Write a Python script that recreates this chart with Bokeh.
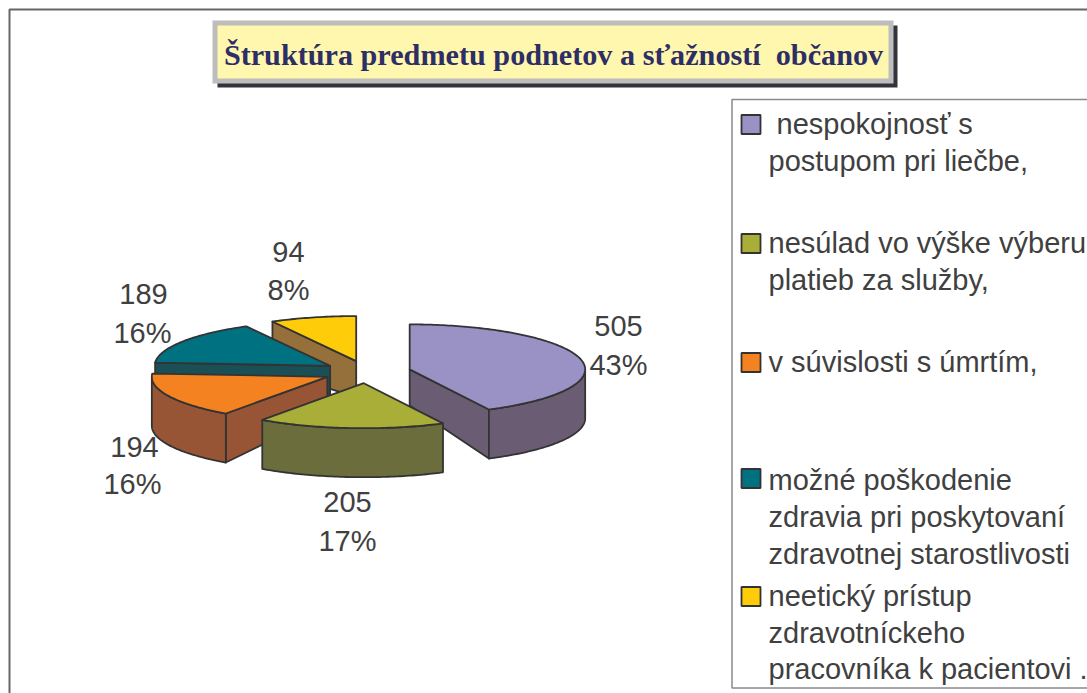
import math
from bokeh.plotting import figure
from bokeh.core.properties import value
from bokeh.embed import file_html
from bokeh.resources import INLINE

# ---- data ----
counts = [505, 205, 194, 189, 94]
percents = ["43%", "17%", "16%", "16%", "8%"]
top_colors = ["#9A91C4", "#A8AE38", "#F58220", "#007180", "#FFCC0A"]
side_colors = ["#6A5D73", "#6B6D3D", "#985535", "#1A5055", "#95703A"]
title_text = "Štruktúra predmetu podnetov a sťažností \u00a0občanov"
legend_lines = [
    ["\u00a0nespokojnosť s", "postupom pri liečbe,"],
    ["nesúlad vo výške výberu", "platieb za služby,"],
    ["v súvislosti s úmrtím,"],
    ["možné poškodenie", "zdravia pri poskytovaní", "zdravotnej starostlivosti"],
    ["neetický prístup", "zdravotníckeho", "pracovníka k pacientovi ."],
]

# ---- layout (page pixels) ----
CX, CY, RX, RY = 366.5, 371.5, 175.5, 45.0
EXPLODE = 0.25
D_APEX, D_RIM = 36.0, 49.0
OUT = "#333333"
LABEL = "#404040"
FONT = value("Liberation Sans")
label_pos = [(618, 325, 618, 364), (347, 501, 347, 540), (134, 446, 132, 483), (143, 293, 142, 332), (288, 251, 288, 289)]
legend_base = [[123, 160], [242, 279], [361], [479, 516, 553], [595, 632, 668]]
swatch_y = [124, 243, 362, 478, 596]

p = figure(width=1087, height=693, x_range=(0, 1087), y_range=(693, 0),
           output_backend="svg", toolbar_location=None, min_border=0,
           x_axis_type=None, y_axis_type=None, outline_line_color=None)
p.grid.visible = False
p.background_fill_color = "white"
p.border_fill_color = "white"

# chart frame
p.line([9, 9, 1087], [693, 9, 9], line_color="#666666", line_width=2)

# title box
p.quad(left=217, right=897, top=25, bottom=87, fill_color="#33333D", line_color=None)
p.quad(left=212, right=893, top=20, bottom=83, fill_color="#BDBDBD", line_color=None)
p.quad(left=217, right=888, top=25, bottom=78, fill_color="#FFF7AD", line_color=None)
p.text([553], [54], text=[title_text], text_font=value("Liberation Serif"), text_font_style="bold",
       text_font_size="30.2px", text_color="#2E2E66", text_align="center", text_baseline="alphabetic")

# legend box
p.line([1087, 731.5, 731.5, 1087], [99, 99, 687.5, 687.5], line_color="#8A8A8A", line_width=1.5)

# pie
total = sum(counts)
starts, acc = [], 0
for c in counts:
    starts.append(acc / total * 360)
    acc += c

def pt(ax, ay, deg):
    t = math.radians(deg)
    return ax + RX * math.sin(t), ay - RY * math.cos(t)

def side_patch(xs, ys, color):
    p.patch(xs, ys, fill_color=color, line_color=OUT, line_width=1.8, line_join="round")

for i in [4, 3, 2, 0, 1]:
    a0 = starts[i]
    a1 = a0 + counts[i] / total * 360
    mid = math.radians((a0 + a1) / 2)
    ax = CX + EXPLODE * RX * math.sin(mid)
    ay = CY - EXPLODE * RY * math.cos(mid)
    for edge, normal in ((a0, a0 - 90), (a1, a1 + 90)):
        if math.cos(math.radians(normal)) < -1e-6:
            ex, ey = pt(ax, ay, edge)
            side_patch([ax, ex, ex, ax], [ay, ey, ey + D_RIM, ay + D_APEX], side_colors[i])
    lo, hi = max(a0, 90), min(a1, 270)
    if hi > lo:
        n = int(hi - lo) + 2
        arc = [pt(ax, ay, lo + (hi - lo) * k / (n - 1)) for k in range(n)]
        xs = [q[0] for q in arc] + [q[0] for q in reversed(arc)]
        ys = [q[1] for q in arc] + [q[1] + D_RIM for q in reversed(arc)]
        side_patch(xs, ys, side_colors[i])
    n = int(a1 - a0) + 2
    arc = [pt(ax, ay, a0 + (a1 - a0) * k / (n - 1)) for k in range(n)]
    p.patch([ax] + [q[0] for q in arc], [ay] + [q[1] for q in arc],
            fill_color=top_colors[i], line_color=OUT, line_width=1.8, line_join="round")

for c, pc, (x1, y1, x2, y2) in zip(counts, percents, label_pos):
    p.text([x1], [y1], text=[str(c)], text_font=FONT, text_font_size="29px", text_color=LABEL,
           text_align="center", text_baseline="middle")
    p.text([x2], [y2], text=[pc], text_font=FONT, text_font_size="29px", text_color=LABEL,
           text_align="center", text_baseline="middle")

for lines, bases, sy, col in zip(legend_lines, legend_base, swatch_y, top_colors):
    p.quad(left=741, right=760, top=sy - 9.5, bottom=sy + 9.5, fill_color=col, line_color=OUT, line_width=1.8)
    for t, b in zip(lines, bases):
        p.text([768], [b], text=[t], text_font=FONT, text_font_size="29px", text_color=LABEL,
               text_align="left", text_baseline="alphabetic")

open("out.html", "w").write(file_html(p, INLINE))
